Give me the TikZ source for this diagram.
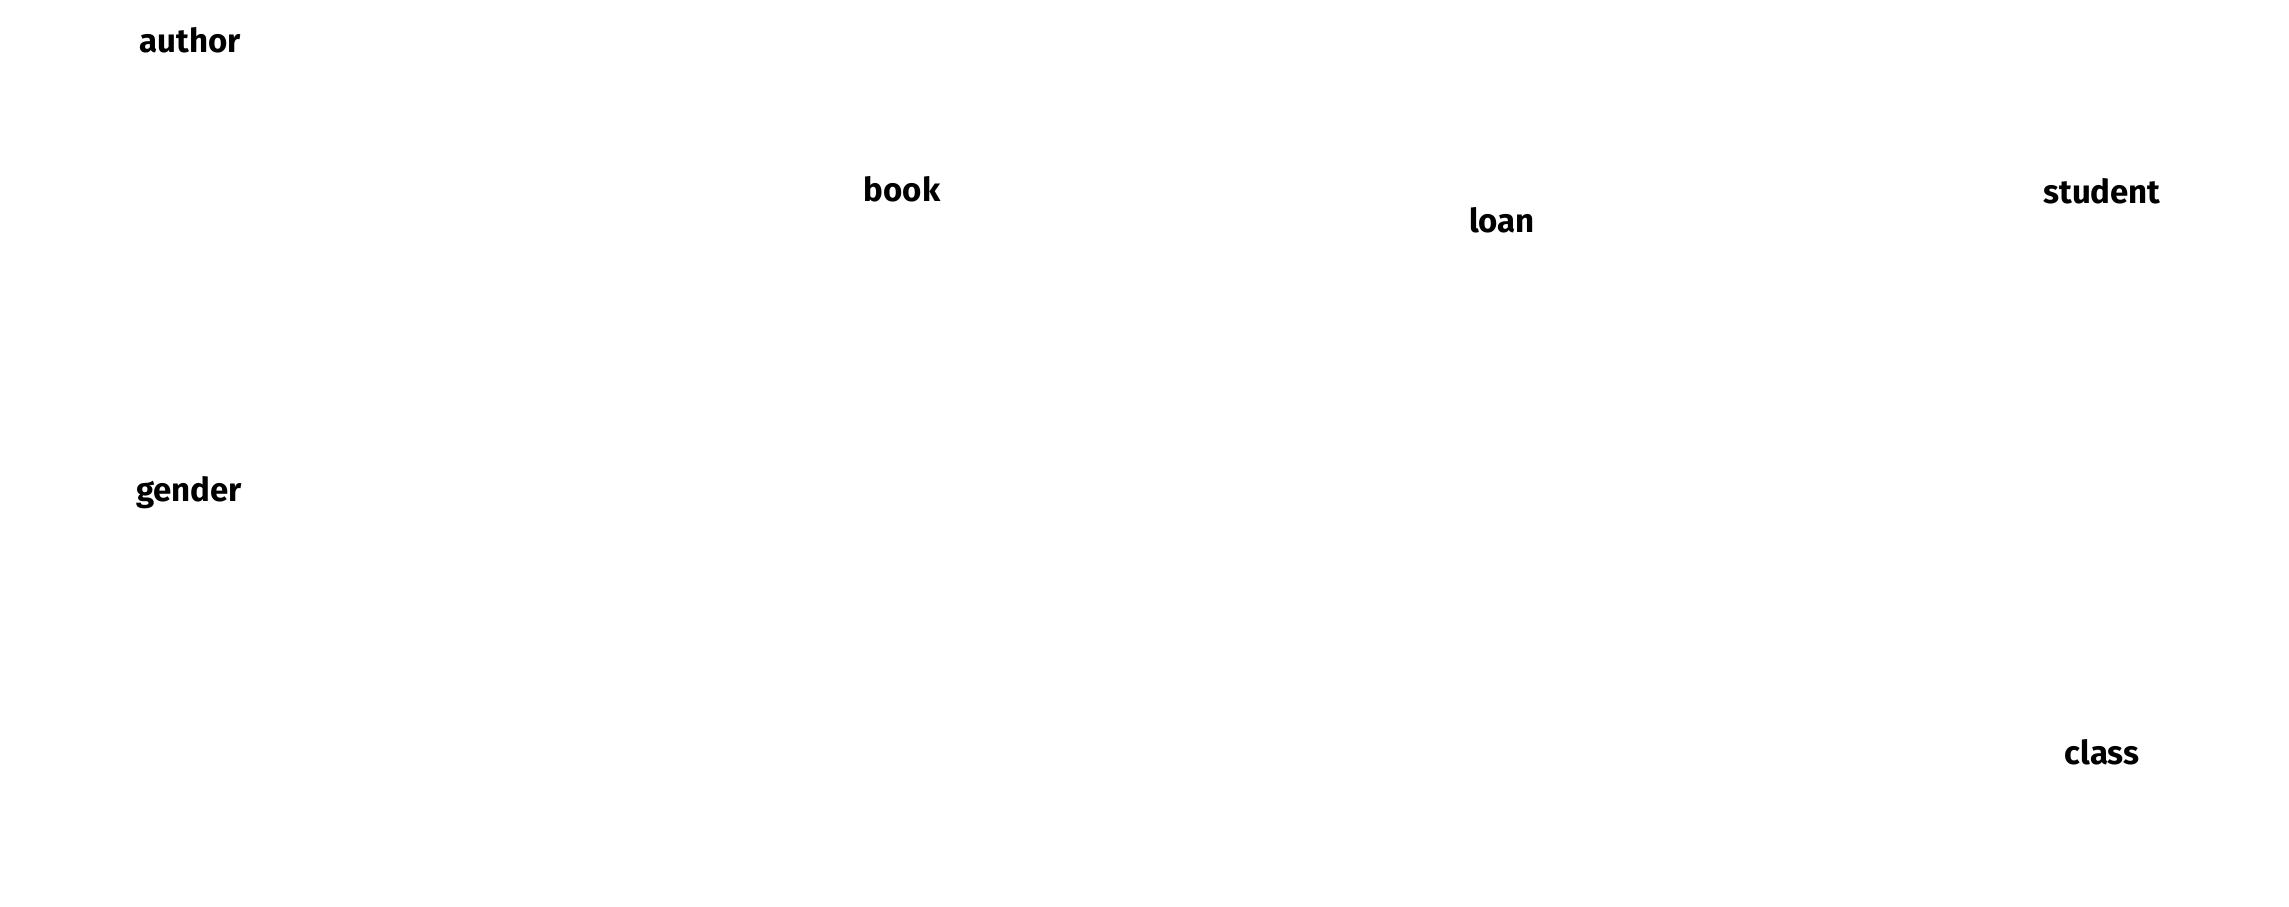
\documentclass[tikz,border=0pt]{standalone}
\usepackage{fontspec}
\setmainfont{Fira Sans}
\usepackage{tikz}
\tikzset{entity/.style={anchor=base, inner sep=0pt, font=\fontsize{16.5}{18}\selectfont\bfseries}}

\begin{document}
\begin{tikzpicture}[x=0.5pt, y=-0.5pt]
	\useasboundingbox (0,0) rectangle (2289,906);
	\node[entity] (A) at (190,52)   {author};
	\node[entity] (B) at (902,201)  {book};
	\node[entity] (L) at (1502,232) {loan};
	\node[entity] (S) at (2102,203) {student};
	\node[entity] (G) at (189,501)  {gender};
	\node[entity] (C) at (2102,764) {class};
\end{tikzpicture}
\end{document}
